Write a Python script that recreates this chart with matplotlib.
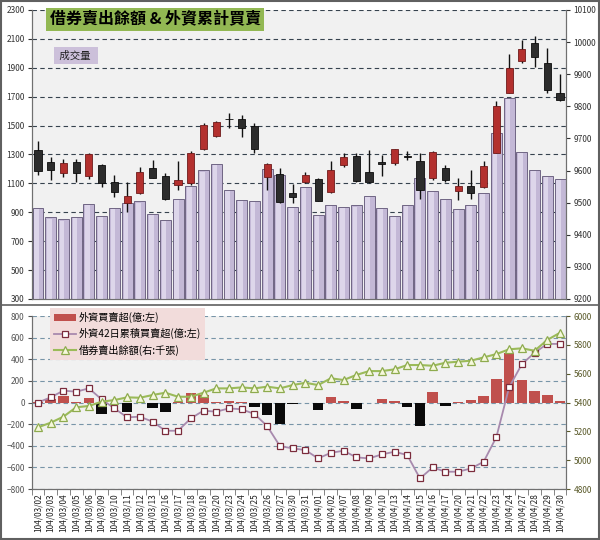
import matplotlib
matplotlib.use("Agg")
import matplotlib.pyplot as plt
import numpy as np
from matplotlib.patches import Patch, Rectangle
from matplotlib.lines import Line2D

plt.rcParams['font.family'] = ['Noto Sans CJK TC', 'DejaVu Sans']

dates = ["104/03/02", "104/03/03", "104/03/04", "104/03/05", "104/03/06",
         "104/03/09", "104/03/10", "104/03/11", "104/03/12", "104/03/13",
         "104/03/16", "104/03/17", "104/03/18", "104/03/19", "104/03/20",
         "104/03/23", "104/03/24", "104/03/25", "104/03/26", "104/03/27",
         "104/03/30", "104/03/31", "104/04/01", "104/04/02", "104/04/07",
         "104/04/08", "104/04/09", "104/04/10", "104/04/13", "104/04/14",
         "104/04/15", "104/04/16", "104/04/17", "104/04/20", "104/04/21",
         "104/04/22", "104/04/23", "104/04/24", "104/04/27", "104/04/28",
         "104/04/29", "104/04/30"]

# 成交量 (億, left axis of top panel)
volume = [928, 865, 851, 868, 958, 874, 933, 962, 975, 888,
          845, 990, 1082, 1190, 1232, 1054, 984, 976, 1200, 1155,
          935, 1073, 881, 950, 935, 948, 1013, 932, 874, 950,
          1140, 1045, 990, 921, 951, 1036, 1450, 1689, 1319, 1193,
          1153, 1130]

# 加權指數 K 線 (right axis of top panel)
k_open = [9664, 9627, 9593, 9627, 9583, 9617, 9564, 9498, 9531, 9607,
          9583, 9555, 9560, 9666, 9708, 9761, 9760, 9739, 9579, 9589,
          9531, 9565, 9574, 9534, 9617, 9645, 9596, 9626, 9622, 9644,
          9630, 9576, 9609, 9537, 9552, 9548, 9656, 9842, 9942, 9996,
          9936, 9840]
k_high = [9693, 9643, 9635, 9635, 9656, 9619, 9586, 9565, 9612, 9633,
          9593, 9631, 9660, 9747, 9754, 9778, 9773, 9747, 9622, 9607,
          9558, 9596, 9578, 9631, 9656, 9656, 9664, 9648, 9668, 9662,
          9656, 9662, 9617, 9576, 9602, 9631, 9818, 9963, 10006, 10019,
          9981, 9901]
k_low = [9586, 9571, 9581, 9565, 9573, 9550, 9519, 9472, 9527, 9576,
         9508, 9539, 9556, 9664, 9706, 9731, 9704, 9654, 9539, 9500,
         9500, 9560, 9504, 9531, 9612, 9564, 9562, 9583, 9618, 9633,
         9510, 9572, 9565, 9508, 9510, 9545, 9654, 9840, 9936, 9922,
         9842, 9818]
k_close = [9600, 9602, 9624, 9593, 9651, 9560, 9533, 9522, 9596, 9578,
           9510, 9570, 9656, 9742, 9752, 9759, 9732, 9666, 9620, 9503,
           9519, 9586, 9506, 9602, 9643, 9568, 9565, 9619, 9666, 9642,
           9539, 9659, 9571, 9552, 9531, 9614, 9801, 9918, 9978, 9955,
           9851, 9820]

# 外資買賣超 (億)
foreign_net = [3, 30, 62, 5, 40, -105, -3, -85, -4, -55,
               -90, 2, 92, 70, 3, 18, 2, -38, -115, -200,
               -10, -8, -70, 55, 18, -62, -5, 35, 18, -38,
               -215, 97, -35, 2, 22, 60, 215, 455, 205, 108,
               70, 18]

# 外資42日累積買賣超 (億)
foreign_cum42 = [0, 48, 110, 100, 131, 29, -54, -137, -131, -177,
                 -261, -261, -147, -75, -85, -54, -63, -106, -218, -403,
                 -424, -440, -517, -465, -446, -507, -517, -480, -455, -486,
                 -702, -600, -640, -640, -610, -548, -320, 141, 354, 461,
                 542, 542]

# 借券賣出餘額 (千張)
short_balance = [5228, 5260, 5302, 5367, 5376, 5406, 5417, 5436, 5433, 5452,
                 5468, 5440, 5440, 5468, 5498, 5498, 5505, 5498, 5510, 5498,
                 5521, 5537, 5521, 5568, 5556, 5591, 5618, 5618, 5630, 5660,
                 5660, 5655, 5676, 5683, 5690, 5713, 5736, 5769, 5776, 5759,
                 5834, 5884]

legend_labels = ["外資買賣超(億:左)", "外資42日累積買賣超(億:左)", "借券賣出餘額(右:千張)"]

x = np.arange(len(dates))

fig = plt.figure(figsize=(6, 5.4), dpi=100)
fig.patch.set_facecolor('white')

L, W = 0.0527, 0.8913
ax1 = fig.add_axes([L, 0.4463, W, 0.5352])
ax1.set_facecolor('#f1f1f1')
ax1r = ax1.twinx()
ax2 = fig.add_axes([L, 0.0944, W, 0.3204])
ax2.set_facecolor('#f1f1f1')
ax2r = ax2.twinx()

# ---------- top panel ----------
ax1.set_xlim(-0.5, len(dates) - 0.5)
ax1.set_ylim(300, 2300)
ax1.set_yticks(np.arange(300, 2301, 200))
ax1.set_axisbelow(True)
ax1.yaxis.grid(True, color='#36424e', linestyle=(0, (4, 3)), linewidth=0.8)
ax1.bar(x, np.array(volume) - 300, bottom=300, width=0.86, color='#c3b8d6',
        edgecolor='#6f6584', linewidth=0.7, zorder=2)
ax1.bar(x - 0.1, np.array(volume) - 300 - 8, bottom=300, width=0.36,
        color='#ddd6ea', linewidth=0, zorder=3)
ax1.set_xticks([])

ax1r.set_ylim(9200, 10100)
ax1r.set_yticks(np.arange(9200, 10101, 100))
o = np.array(k_open); c = np.array(k_close)
hi = np.array(k_high); lo = np.array(k_low)
up = c >= o
ax1r.vlines(x, lo, hi, color='#111111', linewidth=1.0, zorder=2)
body_bottom = np.minimum(o, c)
body_h = np.maximum(np.abs(c - o), 2.5)
ax1r.bar(x[up], body_h[up], bottom=body_bottom[up], width=0.56,
         color='#b3302e', edgecolor='#6e1a1a', linewidth=0.6, zorder=3)
ax1r.bar(x[~up], body_h[~up], bottom=body_bottom[~up], width=0.56,
         color='#2c2c2c', edgecolor='#0c0c0c', linewidth=0.6, zorder=3)

for a in (ax1, ax1r):
    a.spines['top'].set_visible(False)
    for s in ('left', 'right', 'bottom'):
        a.spines[s].set_color('#707070')
ax1.tick_params(axis='y', labelsize=6, colors='#333333', length=3, pad=2)
ax1r.tick_params(axis='y', labelsize=6, colors='#333333', length=3, pad=2)

ax1.text(0.034, 0.967, "借券賣出餘額 & 外資累計買賣", transform=ax1.transAxes,
         fontsize=11.5, fontweight='bold', color='black', va='center', ha='left',
         bbox=dict(boxstyle='square,pad=0.22', facecolor='#92b853', edgecolor='none'),
         zorder=10)
ax1.text(0.047, 0.842, " 成交量  ", transform=ax1.transAxes,
         fontsize=7.5, color='#222222', va='center', ha='left',
         bbox=dict(boxstyle='square,pad=0.3', facecolor='#ccc0da', edgecolor='none'),
         zorder=10)

# ---------- bottom panel ----------
ax2.set_xlim(-0.5, len(dates) - 0.5)
ax2.set_ylim(-800, 800)
ax2.set_yticks(np.arange(-800, 801, 200))
ax2.set_axisbelow(True)
ax2.yaxis.grid(True, color='#7895a8', linestyle=(0, (4, 3)), linewidth=0.8)
fn = np.array(foreign_net)
cols = ['#c0504d' if v >= 0 else '#0a0a0a' for v in fn]
ax2.bar(x, fn, width=0.82, color=cols, edgecolor='none', zorder=2)
ax2.plot(x, foreign_cum42, color='#a88aae', linewidth=1.3, marker='s',
         markersize=5, markerfacecolor='white', markeredgecolor='#7b2c3c',
         markeredgewidth=0.9, zorder=4)

ax2r.set_ylim(4800, 6000)
ax2r.set_yticks(np.arange(4800, 6001, 200))
ax2r.plot(x, short_balance, color='#9bbb59', linewidth=1.5, marker='^',
          markersize=5.5, markerfacecolor='#f6f8dc', markeredgecolor='#8eab4e',
          markeredgewidth=0.9, zorder=4)

ax2.set_xticks(x)
ax2.set_xticklabels(dates, rotation=90, fontsize=6, color='#222222')
ax2.tick_params(axis='x', which='major', length=0, pad=3)
ax2.set_xticks(np.arange(-0.5, len(dates), 1), minor=True)
ax2.tick_params(axis='x', which='minor', length=4, color='#707070')
ax2.tick_params(axis='y', labelsize=6, colors='#555555', length=3, pad=2)
ax2r.tick_params(axis='y', labelsize=6, colors='#5a5a2a', length=3, pad=2)
for a in (ax2, ax2r):
    a.spines['top'].set_visible(False)
    for s in ('left', 'right', 'bottom'):
        a.spines[s].set_color('#707070')

handles = [Patch(facecolor='#c0504d', edgecolor='none'),
           Line2D([0], [0], color='#a88aae', linewidth=1.3, marker='s', markersize=5,
                  markerfacecolor='white', markeredgecolor='#7b2c3c', markeredgewidth=0.9),
           Line2D([0], [0], color='#9bbb59', linewidth=1.5, marker='^', markersize=5.5,
                  markerfacecolor='#f6f8dc', markeredgecolor='#8eab4e', markeredgewidth=0.9)]
leg = fig.legend(handles, legend_labels, loc='upper left',
                 bbox_to_anchor=(45 / 600, 1 - 303 / 540), fontsize=7.3,
                 frameon=True, facecolor='#f2dcdb', edgecolor='none', framealpha=1,
                 fancybox=False, handlelength=2.2, labelspacing=0.55,
                 borderpad=0.35, handletextpad=0.3)
leg.set_zorder(20)

# figure frame and separator
fig.patches.append(Rectangle((0.002, 0.002), 0.996, 0.996, transform=fig.transFigure,
                             fill=False, edgecolor='#606060', linewidth=1.5))
fig.add_artist(Line2D([0, 1], [1 - 305 / 540, 1 - 305 / 540], transform=fig.transFigure,
                      color='#606060', linewidth=1.2))

fig.savefig('out.png', dpi=100)
